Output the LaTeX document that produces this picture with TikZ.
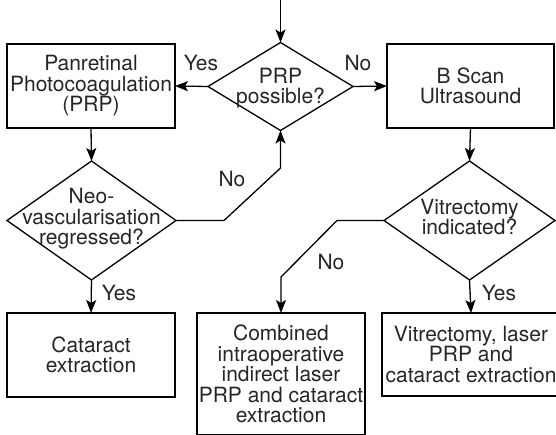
\documentclass[tikz,border=0pt]{standalone}
\usepackage{fontspec}
\setmainfont{TeX Gyre Heros}
\usetikzlibrary{shapes.geometric,arrows.meta}
\begin{document}
\begin{tikzpicture}[x=1pt,y=-1pt,
  every node/.style={font=\fontsize{21}{20.5}\selectfont, text=black!85},
  box/.style={draw, line width=1.3pt, rectangle, inner sep=0pt, outer sep=0pt, align=center},
  dia/.style={draw, line width=1.3pt, diamond, inner sep=0pt, outer sep=0pt},
  lbl/.style={inner sep=0pt},
  conn/.style={line width=1.3pt, -{Stealth[length=13pt,width=10pt,inset=3pt]}}]
\clip (0,0) rectangle (556,435);
\fill[white] (0,0) rectangle (556,435);
% top entry
\coordinate (start) at (280.5,0);
% decision PRP possible
\node[dia, minimum width=145pt, minimum height=88pt] (d1) at (280.5,86.5) {};
\node[lbl, align=center] (d1t) at (280.5,88) {PRP\\possible?};
% boxes
\node[box, minimum width=168pt, minimum height=84pt] (prp) at (91,86) {Panretinal\\Photocoagulation\\(PRP)};
\node[box, minimum width=167pt, minimum height=84pt] (bscan) at (470.5,86) {B Scan\\Ultrasound};
% decision neo
\node[dia, minimum width=169pt, minimum height=119pt] (d2) at (91.5,220.5) {};
\node[lbl, align=center] (d2t) at (91.5,219) {Neo-\\vascularisation\\regressed?};
% decision vit
\node[dia, minimum width=171pt, minimum height=119pt] (d3) at (469.5,220.5) {};
\node[lbl, align=center] (d3t) at (469.5,217) {Vitrectomy\\indicated?};
% bottom boxes
\node[box, minimum width=168pt, minimum height=84pt] (cat) at (91,355) {Cataract\\extraction};
\node[box, minimum width=168pt, minimum height=122pt] (comb) at (281,374) {Combined\\intraoperative\\indirect laser\\PRP and cataract\\extraction};
\node[box, minimum width=178pt, minimum height=83pt] (vit) at (471,354.5) {Vitrectomy, laser\\PRP and\\cataract extraction};
% connectors
\draw[conn] (start) -- (d1.north);
\draw[conn] (d1.west) -- (prp.east);
\draw[conn] (d1.east) -- (bscan.west);
\draw[conn] (prp.south) -- (d2.north);
\draw[conn] (bscan.south) -- (d3.north);
\draw[conn] (d2.south) -- (cat.north);
\draw[conn] (d3.south) -- (vit.north);
\coordinate (n1) at (224,220.5);
\coordinate (n2) at (280.5,168);
\draw[conn] (d2.east) -- (n1) -- (n2) -- (d1.south);
\coordinate (v1) at (337,220.5);
\coordinate (v2) at (281,277);
\draw[conn] (d3.west) -- (v1) -- (v2) -- (comb.north);
% labels
\node[lbl] (l1) at (201,63) {Yes};
\node[lbl] (l2) at (358,63) {No};
\node[lbl] (l3) at (232,179) {No};
\node[lbl] (l4) at (119,293) {Yes};
\node[lbl] (l5) at (331,262) {No};
\node[lbl] (l6) at (499,293) {Yes};
\end{tikzpicture}
\end{document}
